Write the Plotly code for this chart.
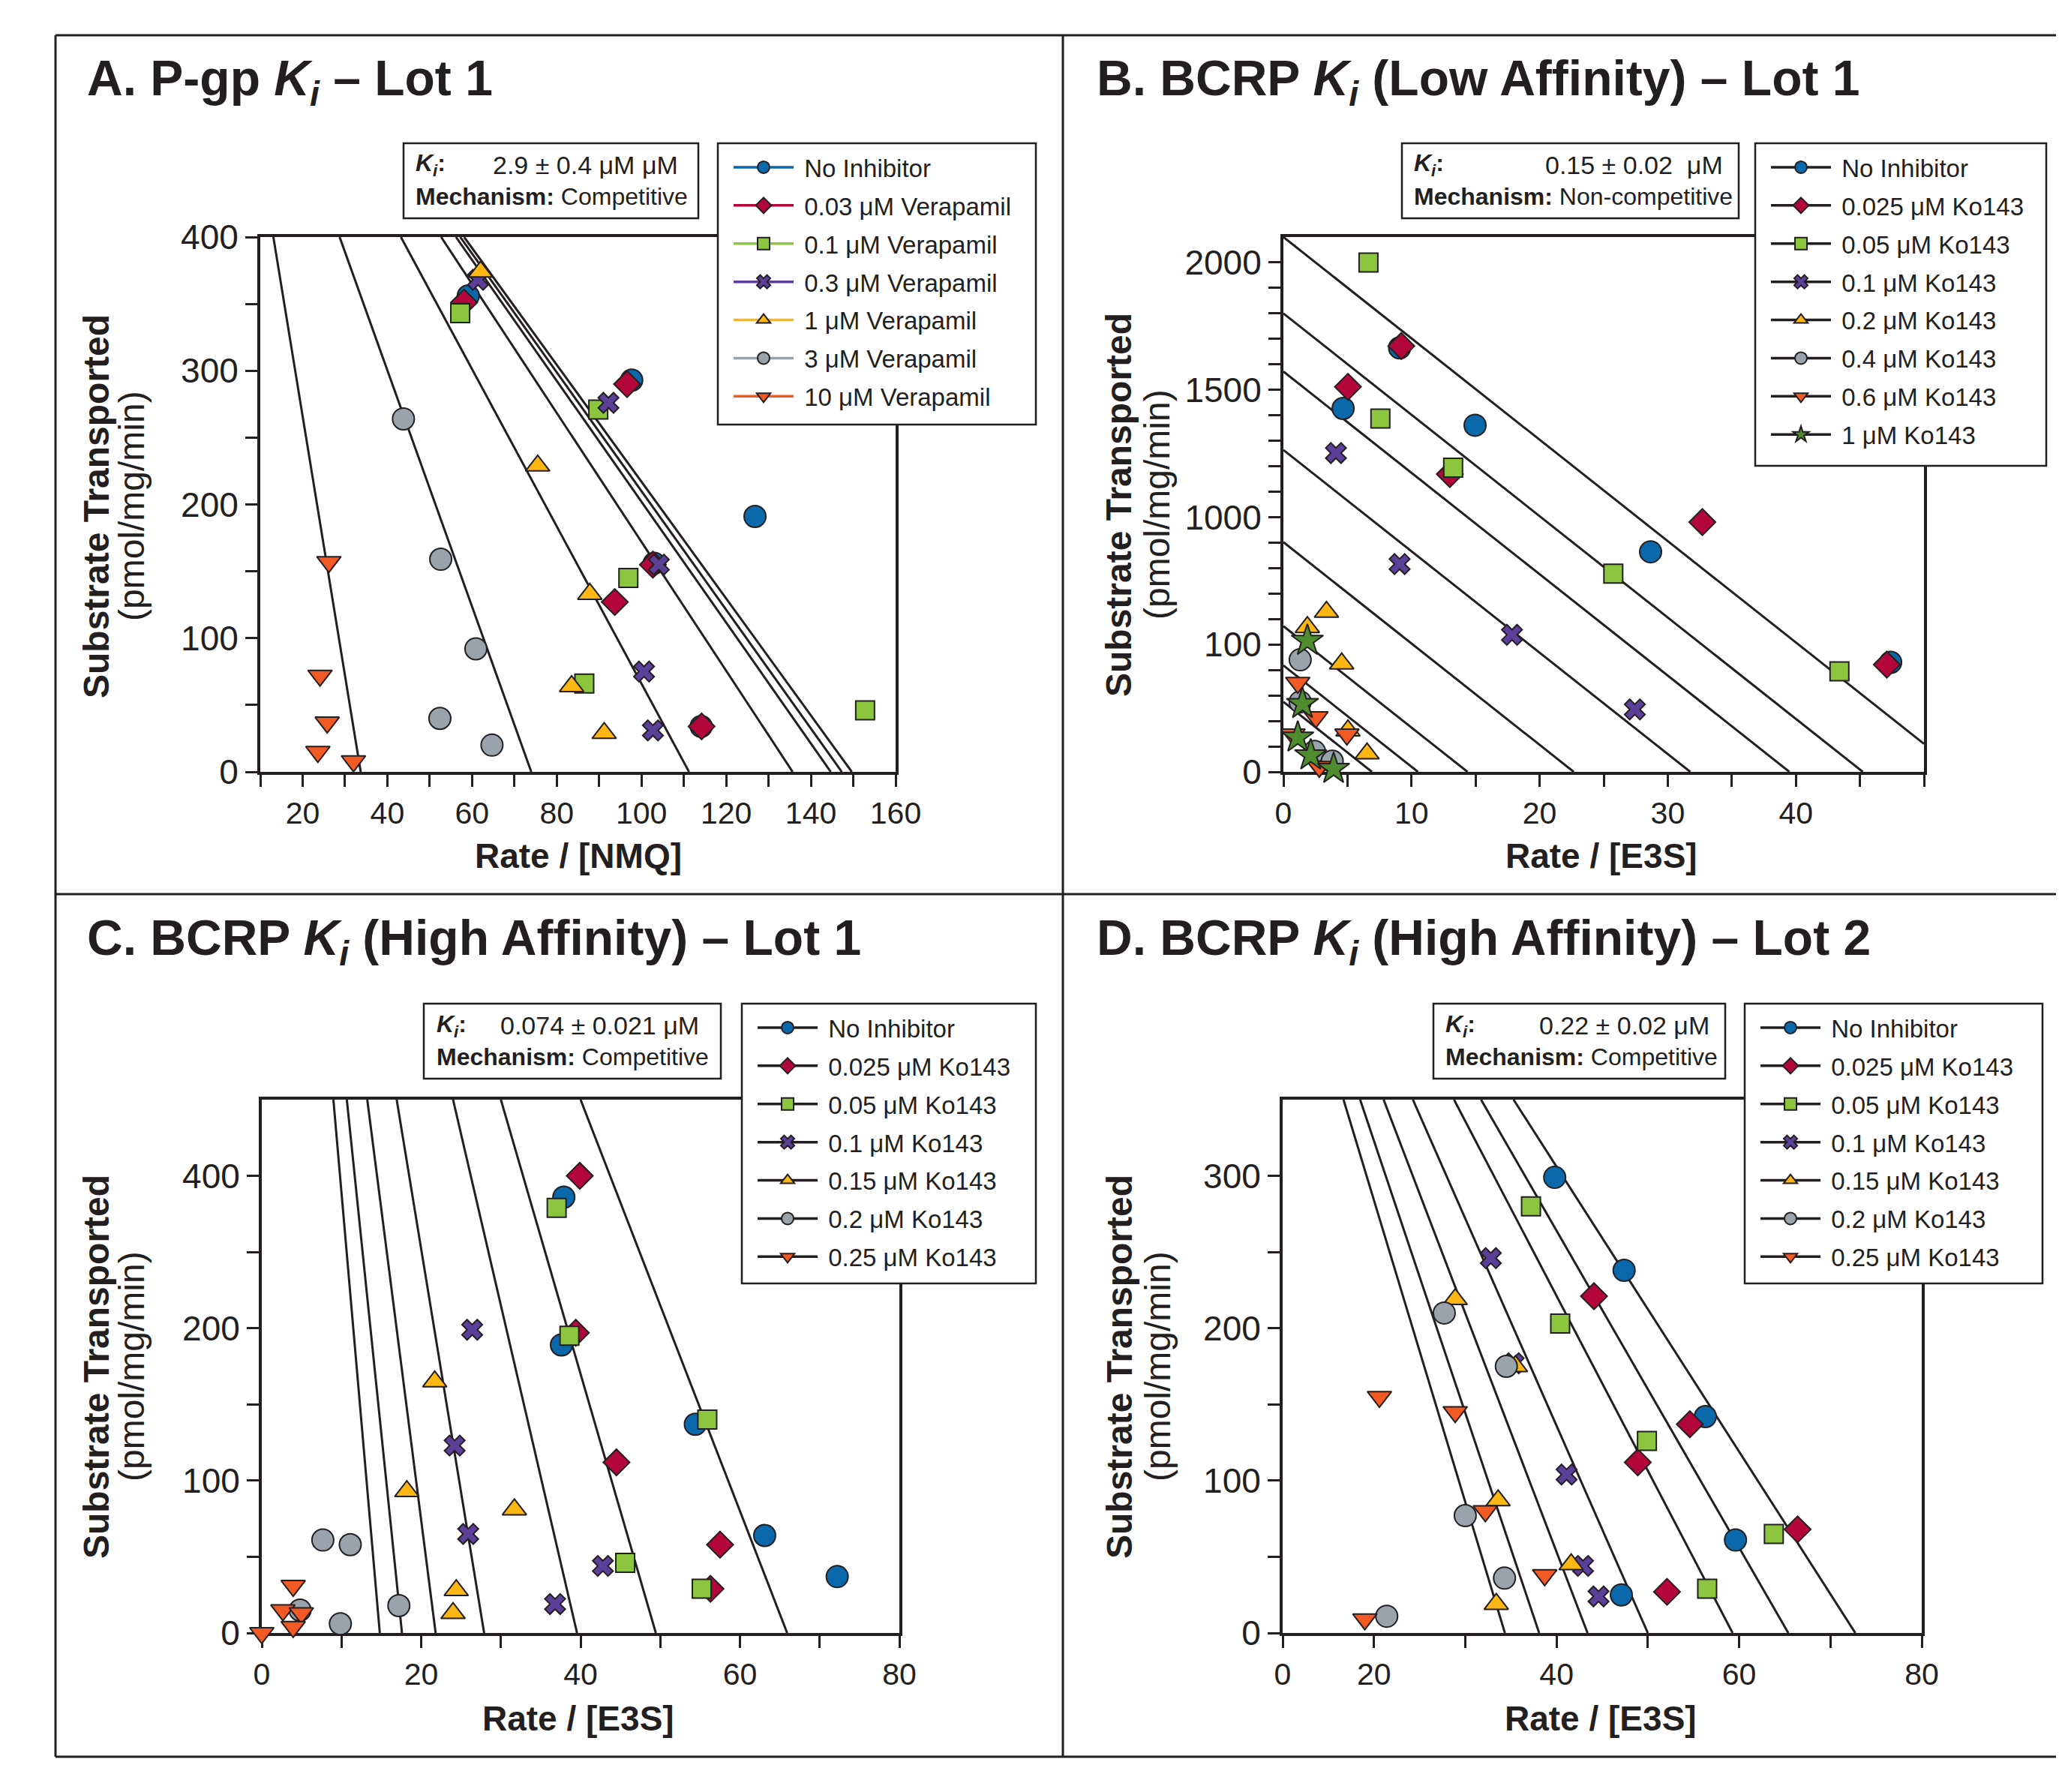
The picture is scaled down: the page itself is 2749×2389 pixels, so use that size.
import numpy as np
import plotly.graph_objects as go

W, H = 2749, 2389
OFF = 8  # the page body adds an 8 px margin; positions below are page pixels
DARK = "#231f20"
SANS = "Liberation Sans, Arial, Helvetica, sans-serif"

# ---------------- Panel A: P-gp Ki, Verapamil ----------------
a_labels = ["No Inhibitor", "0.03 μM Verapamil", "0.1 μM Verapamil", "0.3 μM Verapamil",
            "1 μM Verapamil", "3 μM Verapamil", "10 μM Verapamil"]
a_x = [
    [59.1, 97.7, 126.8, 103.0, 114.1],
    [58.1, 96.6, 102.7, 93.7, 114.2],
    [57.2, 89.8, 96.9, 86.5, 152.8],
    [61.4, 92.2, 104.1, 100.6, 102.7],
    [62.0, 75.5, 87.8, 83.5, 91.2],
    [43.8, 52.6, 60.9, 52.4, 64.7],
    [26.2, 24.1, 25.8, 23.6, 32.0],
]
a_y = [
    [356, 293, 191, 156, 34],
    [351, 290, 155, 127, 34],
    [343, 271, 145, 66, 46],
    [368, 276, 155, 75, 31],
    [374, 229, 133, 64, 29],
    [264, 159, 92, 40, 20],
    [157, 72, 37, 15, 8],
]
a_vmax = [654] * 7
a_km = [4.37, 4.44, 4.52, 4.82, 5.88, 8.84, 19.4]
a_ki_text = "2.9 ± 0.4 μM μM"
a_mech = "Competitive"

# ---------------- Panel B: BCRP Ki (low affinity), Ko143 ----------------
b_labels = ["No Inhibitor", "0.025 μM Ko143", "0.05 μM Ko143", "0.1 μM Ko143",
            "0.2 μM Ko143", "0.4 μM Ko143", "0.6 μM Ko143", "1 μM Ko143"]
b_x = [
    [9.07, 4.66, 14.96, 28.66, 47.4],
    [9.2, 5.04, 12.99, 32.7, 47.1],
    [6.64, 7.57, 13.25, 25.75, 43.4],
    [4.10, 9.07, 17.84, 27.43],
    [3.36, 1.87, 4.55, 5.04, 6.53],
    [1.31, 1.31, 2.43, 3.81],
    [1.12, 2.54, 0.75, 4.96, 2.8],
    [1.87, 1.49, 1.12, 2.13, 3.92],
]
b_y = [
    [1665, 1427, 1361, 864, 430],
    [1672, 1512, 1169, 981, 421],
    [2000, 1387, 1194, 778, 395],
    [1252, 816, 538, 245],
    [628, 568, 425, 162, 72],
    [440, 275, 80, 42],
    [350, 215, 147, 147, 20],
    [515, 267, 135, 65, 12],
]
b_vmax = [2100, 1800, 1572, 1264, 902, 572, 418, 275]
b_km = [39.8] * 8
b_ki_text = "0.15 ± 0.02\u00a0\u00a0μM"
b_mech = "Non-competitive"

# ---------------- Panel C: BCRP Ki (high affinity) Lot 1 ----------------
c_labels = ["No Inhibitor", "0.025 μM Ko143", "0.05 μM Ko143", "0.1 μM Ko143",
            "0.15 μM Ko143", "0.2 μM Ko143", "0.25 μM Ko143"]
c_x = [
    [37.9, 37.6, 54.4, 63.1, 72.2],
    [39.9, 39.4, 44.5, 57.5, 56.3],
    [37.0, 38.6, 55.9, 45.6, 55.2],
    [26.4, 24.2, 25.9, 42.8, 36.8],
    [21.7, 18.2, 31.7, 24.4, 24.0],
    [7.66, 11.1, 17.2, 9.86, 4.8],
    [3.94, 2.65, 4.96, 3.94, 0.0],
]
c_y = [
    [286, 189, 137, 64, 37],
    [300, 197, 112, 58, 29],
    [279, 195, 140, 46, 29],
    [199, 123, 65, 44, 19],
    [165, 93, 81, 28, 13],
    [61, 58, 18, 6, 15],
    [31, 15, 13, 4, 0],
]
c_vmax = [890] * 7
c_km = [13.5, 18.0, 22.5, 31.9, 40.8, 50.6, 60.1]
c_ki_text = "0.074 ± 0.021 μM"
c_mech = "Competitive"

# ---------------- Panel D: BCRP Ki (high affinity) Lot 2 ----------------
d_labels = c_labels
d_x = [
    [39.8, 47.4, 56.3, 59.6, 47.1],
    [44.1, 54.6, 48.9, 66.4, 52.1],
    [37.2, 40.4, 49.9, 63.8, 56.5],
    [32.8, 35.3, 41.1, 42.9, 44.6],
    [28.9, 35.5, 33.6, 41.6, 33.4],
    [27.7, 34.5, 30.0, 34.3, 21.4],
    [20.6, 28.9, 32.2, 38.7, 19.0],
]
d_y = [
    [299, 238, 142, 61, 25],
    [221, 137, 112, 68, 27],
    [280, 203, 126, 65, 29],
    [246, 177, 104, 44, 24],
    [219, 175, 87, 45, 19],
    [210, 175, 77, 36, 11],
    [155, 145, 80, 38, 9],
]
d_vmax = [680] * 7
d_km = [9.35, 10.4, 11.47, 13.6, 15.67, 17.85, 19.8]
d_ki_text = "0.22 ± 0.02 μM"
d_mech = "Competitive"

# ---------------- axes / ticks ----------------
a_xrange, a_yrange = [10, 160], [0, 400]
b_xrange, b_yrange = [0, 50], [0, 2100]
c_xrange, c_yrange = [0, 80], [0, 350]
d_xrange, d_yrange = [10, 80], [0, 350]

a_xticks = (10, 160, 10, [20, 40, 60, 80, 100, 120, 140, 160], ["20", "40", "60", "80", "100", "120", "140", "160"])
a_yticks = (0, 400, 50, [0, 100, 200, 300, 400], ["0", "100", "200", "300", "400"])
b_xticks = (0, 50, 5, [0, 10, 20, 30, 40], ["0", "10", "20", "30", "40"])
b_yticks = (0, 2000, 100, [0, 500, 1000, 1500, 2000], ["0", "100", "1000", "1500", "2000"])
c_xticks = (0, 80, 10, [0, 20, 40, 60, 80], ["0", "20", "40", "60", "80"])
c_yticks = (0, 300, 50, [0, 100, 200, 300], ["0", "100", "200", "400"])
d_xticks = (10, 80, 10, [10, 20, 40, 60, 80], ["0", "20", "40", "60", "80"])
d_yticks = (0, 300, 50, [0, 100, 200, 300], ["0", "100", "200", "300"])

COLORS = ["#0a68ab", "#b3073c", "#8cc63f", "#5b3f98", "#fdb714", "#98a3ac", "#f15a24", "#4f8c2e"]
SYMBOLS = ["circle", "diamond", "square", "x", "triangle-up", "circle", "triangle-down", "star"]
SIZES = [29, 27, 25, 24, 28, 29, 28, 32]


def px(v):
    return (v - OFF) / W


def py(v):
    return 1 - (v - OFF) / H


def tick_arrays(spec):
    start, end, step, vals, texts = spec
    allv = list(np.arange(start, end + step / 2, step))
    lab = dict(zip(vals, texts))
    return allv, [lab.get(int(round(v)), "") for v in allv]


fig = go.Figure()

panels = [
    (a_labels, a_x, a_y, a_vmax, a_km, a_xrange, a_yrange, a_xticks, a_yticks, "", "legend", True,
     [347, 1194, 316, 1029]),
    (b_labels, b_x, b_y, b_vmax, b_km, b_xrange, b_yrange, b_xticks, b_yticks, "2", "legend2", False,
     [1711, 2565, 316, 1029]),
    (c_labels, c_x, c_y, c_vmax, c_km, c_xrange, c_yrange, c_xticks, c_yticks, "3", "legend3", False,
     [349, 1199, 1466, 2177]),
    (d_labels, d_x, d_y, d_vmax, d_km, d_xrange, d_yrange, d_xticks, d_yticks, "4", "legend4", False,
     [1710, 2562, 1466, 2177]),
]

layout_axes = {}
for (labels, xs, ys, vmax, km, xr, yr, xt, yt, sfx, leg, colored, dom) in panels:
    xa, ya = "x" + sfx, "y" + sfx
    # fitted lines (Eadie-Hofstee: v = Vmax - Km * v/[S])
    for vm, k in zip(vmax, km):
        x0 = max(xr[0], (vm - yr[1]) / k)
        x1 = min(xr[1], vm / k)
        xx = np.array([x0, x1])
        fig.add_trace(go.Scatter(x=xx, y=vm - k * xx, mode="lines", xaxis=xa, yaxis=ya,
                                 line=dict(color=DARK, width=3), showlegend=False, hoverinfo="skip"))
    # data points (isolated points so the legend still shows a line segment)
    for i, lab in enumerate(labels):
        gx, gy = [], []
        for xv, yv in zip(xs[i], ys[i]):
            gx += [xv, None]
            gy += [yv, None]
        fig.add_trace(go.Scatter(
            x=gx, y=gy, mode="lines+markers", name="\u00a0" + lab, xaxis=xa, yaxis=ya, legend=leg,
            legendgroup=f"{leg}_{i}", cliponaxis=False, connectgaps=False,
            line=dict(color=COLORS[i] if colored else DARK, width=3.5),
            marker=dict(symbol=SYMBOLS[i], size=SIZES[i], color=COLORS[i],
                        line=dict(color=DARK, width=2)),
        ))
    xv, xtxt = tick_arrays(xt)
    yv, ytxt = tick_arrays(yt)
    common = dict(showline=True, linecolor=DARK, linewidth=4, mirror=True, ticks="outside",
                  ticklen=16, tickwidth=3, tickcolor=DARK, showgrid=False, zeroline=False,
                  tickmode="array", layer="below traces", automargin=False)
    layout_axes["xaxis" + sfx] = dict(common, domain=[px(dom[0]), px(dom[1])], range=xr,
                                      anchor=ya, tickvals=xv, ticktext=xtxt,
                                      tickfont=dict(family=SANS, size=41, color=DARK))
    layout_axes["yaxis" + sfx] = dict(common, domain=[py(dom[3]), py(dom[2])], range=yr,
                                      anchor=xa, tickvals=yv, ticktext=ytxt,
                                      tickfont=dict(family=SANS, size=46, color=DARK))

fig.update_layout(**layout_axes)

# legend boxes (drawn as shapes) and legend placement inside them
legend_boxes = [(957, 1381, 191, 566), (2340, 2728, 191, 621), (989, 1381, 1338, 1711), (2326, 2723, 1338, 1711)]
leg_common = dict(xanchor="left", yanchor="top", bgcolor="rgba(0,0,0,0)", borderwidth=0,
                  font=dict(family=SANS, size=33, color=DARK), itemwidth=80,
                  traceorder="grouped", tracegroupgap=5)
legs = {}
for name, (x0, x1, y0, y1) in zip(["legend", "legend2", "legend3", "legend4"], legend_boxes):
    legs[name] = dict(leg_common, x=px(x0 + 16), y=py(y0 + 4))

fig.update_layout(
    width=W, height=H, margin=dict(l=0, r=0, t=0, b=0, autoexpand=False),
    paper_bgcolor="white", plot_bgcolor="white", **legs,
)

annotations = []
shapes = []

# frame lines around the panels
frame = [(74, 47, W + OFF, 47), (74, 47, 74, 2342), (74, 2342, W + OFF, 2342), (1417, 47, 1417, 2342),
         (74, 1192, W + OFF, 1192)]
for x0, y0, x1, y1 in frame:
    shapes.append(dict(type="line", xref="paper", yref="paper", x0=px(x0), y0=py(y0), x1=px(x1), y1=py(y1),
                       line=dict(color=DARK, width=3)))

for x0, x1, y0, y1 in legend_boxes:
    shapes.append(dict(type="rect", xref="paper", yref="paper", x0=px(x0), x1=px(x1), y0=py(y0), y1=py(y1),
                       line=dict(color=DARK, width=2.5), fillcolor="white", layer="above"))

titles = [
    ("<b>A. P-gp <i>K<sub>i</sub></i> – Lot 1</b>", 114, 109),
    ("<b>B. BCRP <i>K<sub>i</sub></i> (Low Affinity) – Lot 1</b>", 1460, 109),
    ("<b>C. BCRP <i>K<sub>i</sub></i> (High Affinity) – Lot 1</b>", 114, 1255),
    ("<b>D. BCRP <i>K<sub>i</sub></i> (High Affinity) – Lot 2</b>", 1460, 1255),
]
for t, x, y in titles:
    annotations.append(dict(text=t, x=px(x), y=py(y), xref="paper", yref="paper", xanchor="left",
                            yanchor="middle", showarrow=False, font=dict(family=SANS, size=66, color=DARK)))

# axis titles
xtitles = [("Rate / [NMQ]", 771, 1141), ("Rate / [E3S]", 2135, 1141), ("Rate / [E3S]", 771, 2291),
           ("Rate / [E3S]", 2134, 2291)]
for t, x, y in xtitles:
    annotations.append(dict(text="<b>" + t + "</b>", x=px(x), y=py(y), xref="paper", yref="paper",
                            xanchor="center", yanchor="middle",
                            showarrow=False, font=dict(family=SANS, size=46, color=DARK)))
ytitle_pos = [(128, 175, 675), (1492, 1543, 673), (128, 175, 1822), (1492, 1543, 1822)]
for xb, xr_, yc in ytitle_pos:
    annotations.append(dict(text="<b>Substrate Transported</b>", x=px(xb), y=py(yc), xref="paper",
                            yref="paper", textangle=-90, showarrow=False, xanchor="center", yanchor="middle",
                            font=dict(family=SANS, size=48, color=DARK)))
    annotations.append(dict(text="(pmol/mg/min)", x=px(xr_), y=py(yc), xref="paper", yref="paper",
                            textangle=-90, showarrow=False, xanchor="center", yanchor="middle",
                            font=dict(family=SANS, size=48, color=DARK)))

# Ki / mechanism boxes
boxes = [
    (a_ki_text, a_mech, (538, 931, 191, 291), 552, 906),
    (b_ki_text, b_mech, (1869, 2318, 191, 291), 1883, 2299),
    (c_ki_text, c_mech, (565, 961, 1338, 1438), 580, 934),
    (d_ki_text, d_mech, (1911, 2300, 1338, 1438), 1925, 2281),
]
for ki, mech, (x0, x1, y0, y1), xl, xrr in boxes:
    shapes.append(dict(type="rect", xref="paper", yref="paper", x0=px(x0), x1=px(x1), y0=py(y0), y1=py(y1),
                       line=dict(color=DARK, width=2.5), fillcolor="rgba(0,0,0,0)"))
    yk = y0 + 29
    ym = y0 + 71
    f = dict(family=SANS, size=32, color=DARK)
    annotations.append(dict(text="<b><i>K<sub>i</sub></i>:</b>", x=px(xl), y=py(yk), xref="paper", yref="paper",
                            xanchor="left", yanchor="middle", showarrow=False, font=f))
    annotations.append(dict(text=ki, x=px(xrr), y=py(yk), xref="paper", yref="paper",
                            xanchor="right", yanchor="middle", showarrow=False, font=dict(f, size=34)))
    annotations.append(dict(text="<b>Mechanism:</b> " + mech, x=px(xl), y=py(ym), xref="paper", yref="paper",
                            xanchor="left", yanchor="middle", showarrow=False, font=f))

fig.update_layout(annotations=annotations, shapes=shapes)
fig.write_html("out.html")
